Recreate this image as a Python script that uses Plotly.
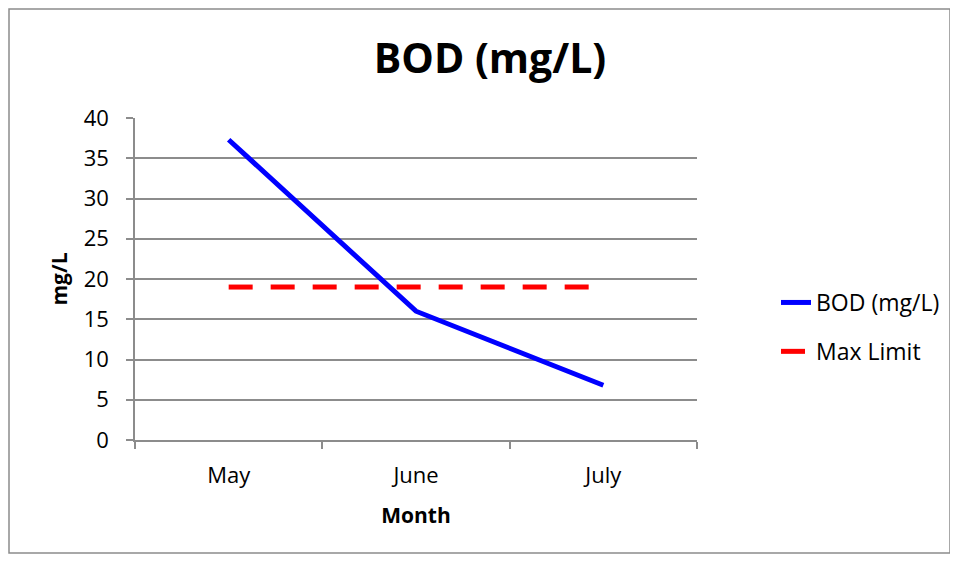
import plotly.graph_objects as go

months = ["May", "June", "July"]
bod = [37.3, 16.0, 6.8]
max_limit = [19, 19, 19]

FONT = "Open Sans"
GRID = "#8c8c8c"

# page has an 8px body margin; figure origin sits at page (8, 8)
L, T, PW, PH = 127, 110, 562, 322

fig = go.Figure()
fig.add_trace(go.Scatter(x=months, y=bod, mode="lines", name="BOD (mg/L)", legendgroup="a",
                         line=dict(color="#0000ff", width=5)))
fig.add_trace(go.Scatter(x=months, y=max_limit, mode="lines", name="Max Limit", legendgroup="b",
                         line=dict(color="#ff0000", width=5, dash="24px,18px")))

fig.update_layout(
    width=958, height=565,
    margin=dict(l=L, r=958 - L - PW, t=T, b=565 - T - PH),
    paper_bgcolor="white", plot_bgcolor="white",
    font=dict(family=FONT, size=22, color="black"),
    title=dict(text="<b>BOD (mg/L)</b>", x=(490 - 8) / 958, xanchor="center",
               y=1 - (59 - 8) / 565, yanchor="middle",
               font=dict(family=FONT, size=41, color="black")),
    legend=dict(x=(776 - 8 - L) / PW, y=(T + PH - (327 - 8)) / PH, xanchor="left", yanchor="middle",
                font=dict(family=FONT, size=23), tracegroupgap=16,
                bgcolor="rgba(0,0,0,0)"),
    xaxis=dict(type="category", range=[-0.5, 2.5], tickson="boundaries",
               ticks="outside", ticklen=7, tickcolor=GRID, tickwidth=1.5,
               showline=True, linecolor=GRID, linewidth=1.5, showgrid=False,
               ticklabelstandoff=15,
               title=dict(text="<b>Month</b>", font=dict(family=FONT, size=21), standoff=20),
               tickfont=dict(family=FONT, size=22)),
    yaxis=dict(range=[0, 40], dtick=5, ticks="outside", ticklen=7, tickcolor=GRID, tickwidth=1.5,
               showline=True, linecolor=GRID, linewidth=1.5,
               showgrid=True, gridcolor=GRID, gridwidth=1.5, zeroline=False,
               ticklabelstandoff=13,
               title=dict(text="<b>mg/L</b>", font=dict(family=FONT, size=21), standoff=10),
               tickfont=dict(family=FONT, size=22)),
)

# outer chart border
fig.add_shape(type="rect", xref="paper", yref="paper",
              x0=(1 - L) / PW, x1=(942 - L) / PW,
              y0=(T + PH - 545) / PH, y1=(T + PH - 1) / PH,
              line=dict(color="#8c8c8c", width=1.5), layer="below")

fig.write_html("out.html")
